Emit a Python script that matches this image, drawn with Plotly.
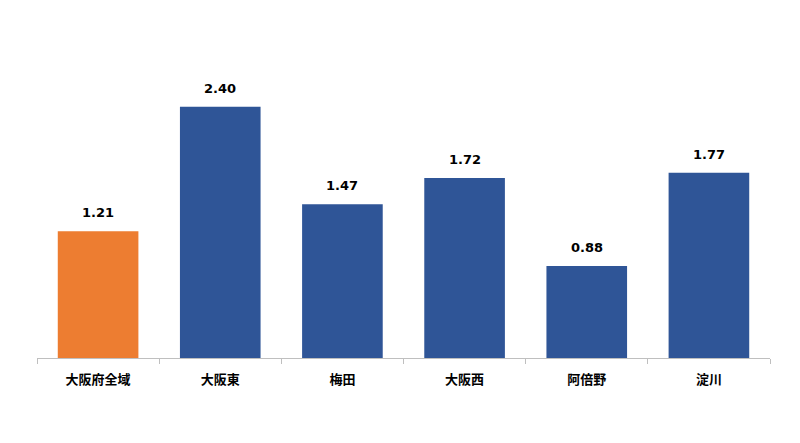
import plotly.graph_objects as go

categories = ["大阪府全域", "大阪東", "梅田", "大阪西", "阿倍野", "淀川"]
values = [1.21, 2.40, 1.47, 1.72, 0.88, 1.77]
colors = ["#ED7D31", "#2F5597", "#2F5597", "#2F5597", "#2F5597", "#2F5597"]
labels = [f"{v:.2f}" for v in values]

font_family = "DejaVu Sans, Noto Sans CJK JP, sans-serif"

fig = go.Figure()
fig.add_trace(go.Bar(x=categories, y=values, marker=dict(color=colors, line=dict(width=0)),
                     hoverinfo="skip"))

for c, v, t in zip(categories, values, labels):
    fig.add_annotation(x=c, y=v, text=f"<b>{t}</b>", showarrow=False, yanchor="bottom",
                       yshift=9, font=dict(family=font_family, size=13, color="#000000"))

fig.update_layout(
    width=800, height=443,
    margin=dict(l=29, r=38, t=36, b=93),
    paper_bgcolor="white", plot_bgcolor="white",
    bargap=0.34,
    showlegend=False,
    font=dict(family=font_family, size=13, color="#000000"),
)
fig.update_xaxes(showline=True, linecolor="#BFBFBF", linewidth=1, ticks="outside",
                 tickson="boundaries", ticklen=5, tickcolor="#BFBFBF",
                 tickfont=dict(family="Noto Sans CJK JP, sans-serif", size=13, color="#000000", weight="bold"),
                 ticklabelstandoff=9)
fig.update_yaxes(range=[0, 3.0], showgrid=False, showticklabels=False, zeroline=False, showline=False)

fig.write_html("out.html")
